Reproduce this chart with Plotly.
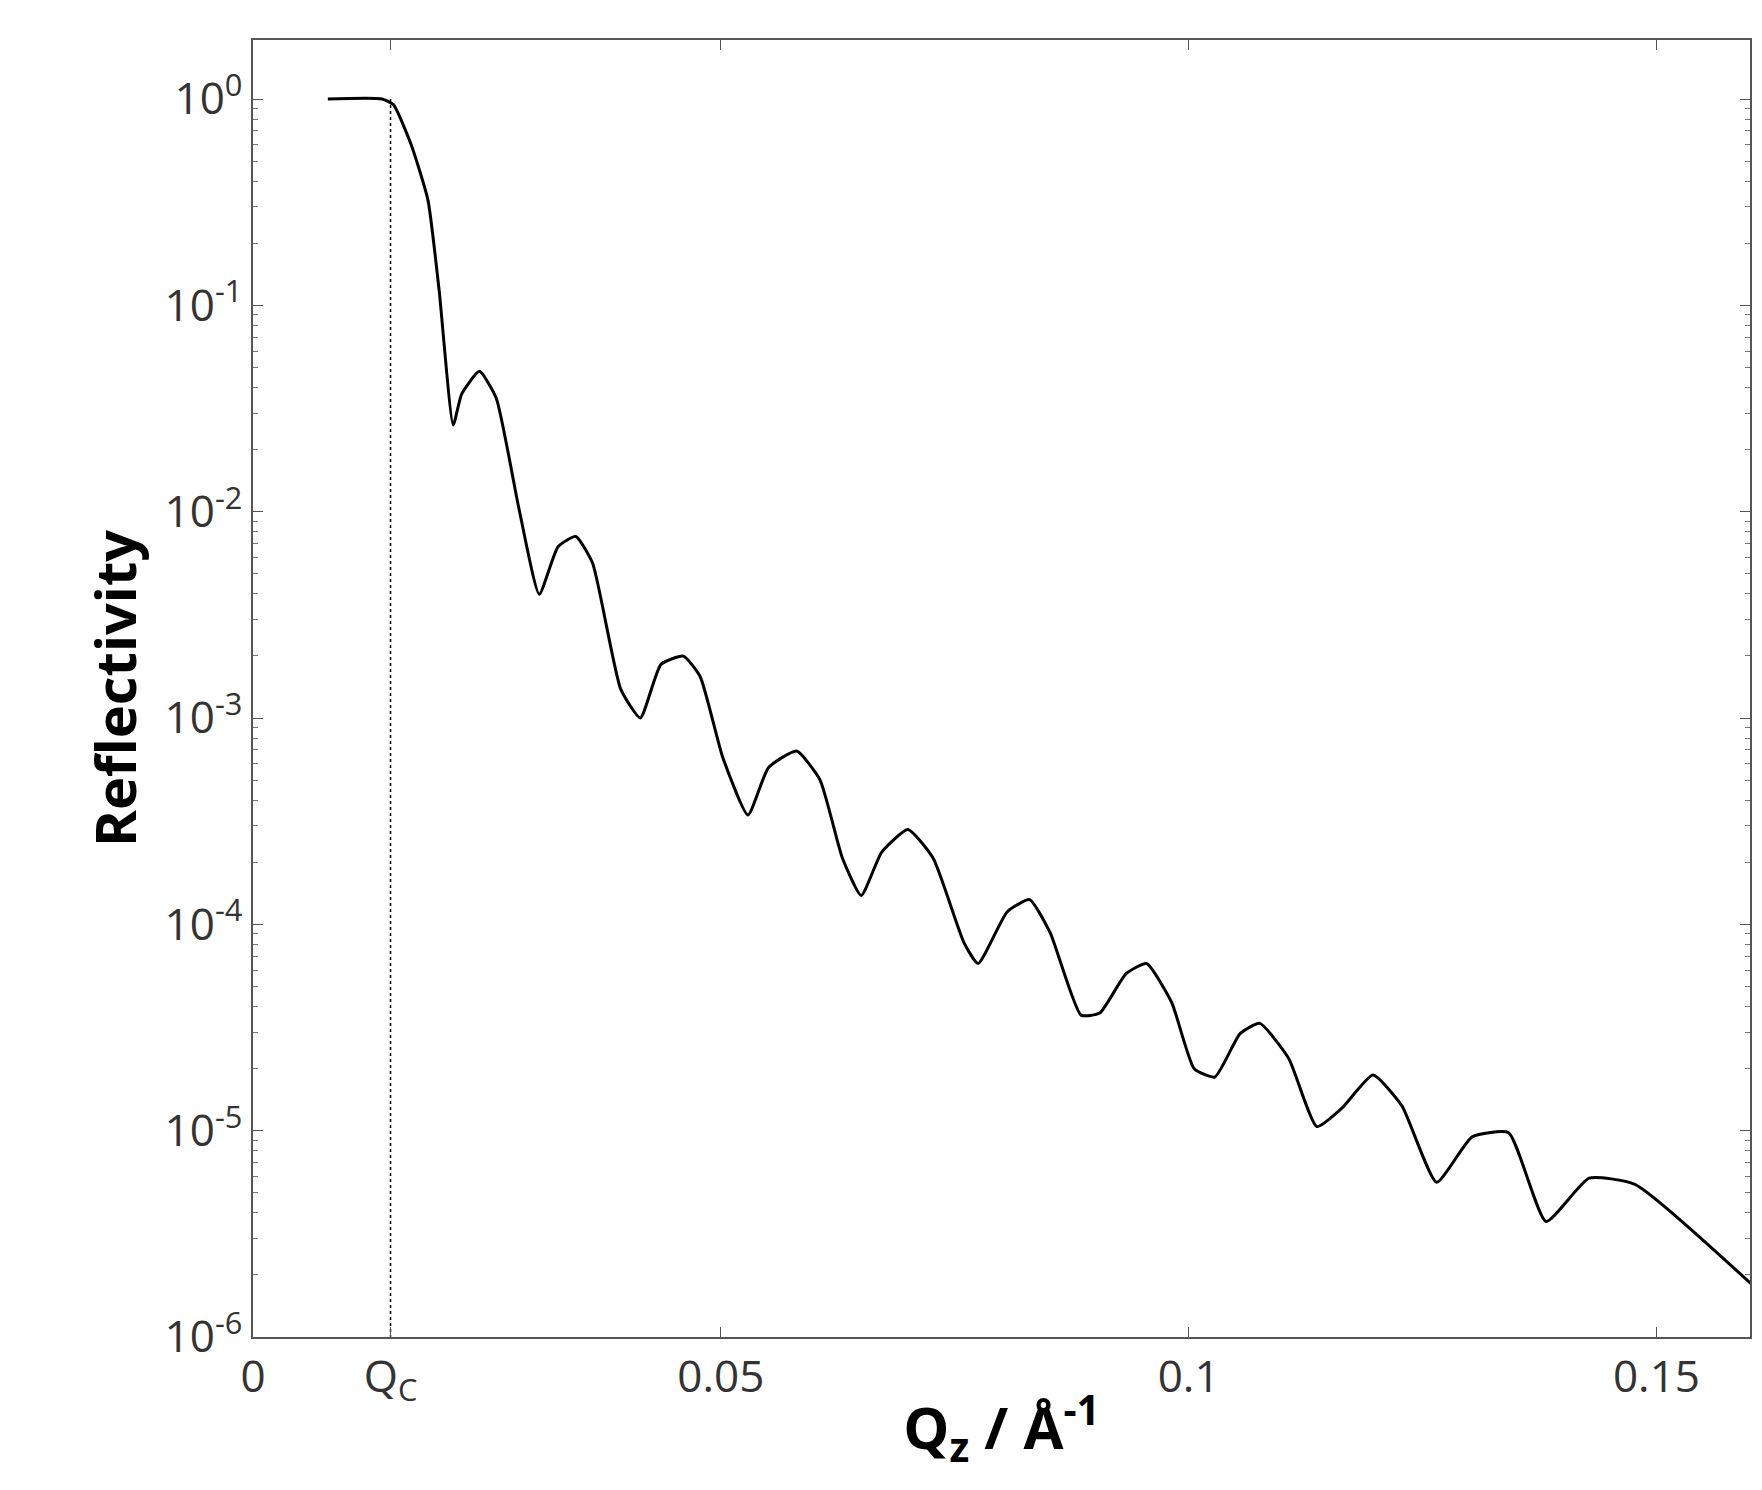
import plotly.graph_objects as go

# Reflectivity curve
qz = [0.008, 0.0138, 0.0150, 0.0169, 0.0187, 0.0199, 0.0214, 0.0223, 0.0242, 0.0260,
      0.0284, 0.0306, 0.0326, 0.0345, 0.0363, 0.0393, 0.0414, 0.0436, 0.0460, 0.0478,
      0.0502, 0.0529, 0.0551, 0.0581, 0.0606, 0.0630, 0.0650, 0.0672, 0.0700, 0.0727,
      0.0760, 0.0775, 0.0806, 0.0830, 0.0852, 0.0885, 0.0905, 0.0933, 0.0955, 0.0982,
      0.1006, 0.1028, 0.1055, 0.1076, 0.1107, 0.1137, 0.1164, 0.1197, 0.1228, 0.1265,
      0.1303, 0.1342, 0.1382, 0.1428, 0.1477, 0.1603]
log_r = [0.0, 0.0, -0.027, -0.22, -0.49, -0.93, -1.58, -1.43, -1.32, -1.45,
         -1.98, -2.40, -2.17, -2.12, -2.25, -2.86, -3.0, -2.74, -2.70, -2.80,
         -3.19, -3.47, -3.24, -3.16, -3.30, -3.68, -3.86, -3.65, -3.54, -3.68,
         -4.09, -4.19, -3.94, -3.88, -4.04, -4.44, -4.43, -4.24, -4.19, -4.38,
         -4.70, -4.74, -4.53, -4.48, -4.65, -4.98, -4.89, -4.73, -4.88, -5.25,
         -5.03, -5.01, -5.44, -5.23, -5.26, -5.75]
refl = [10 ** v for v in log_r]

qc = 0.0147
x_ticks = [0, qc, 0.05, 0.1, 0.15]
x_labels = ["0", "Q<sub>C</sub>", "0.05", "0.1", "0.15"]
y_ticks = [1e0, 1e-1, 1e-2, 1e-3, 1e-4, 1e-5, 1e-6]
y_labels = ["10<sup>%d</sup>" % e for e in [0, -1, -2, -3, -4, -5, -6]]

fig = go.Figure()
fig.add_trace(go.Scatter(x=[qc, qc], y=[1, 1e-6], mode="lines",
                         line=dict(color="black", width=1.5, dash="dot"),
                         showlegend=False))
fig.add_trace(go.Scatter(x=qz, y=refl, mode="lines",
                         line=dict(color="black", width=3, shape="spline", smoothing=0.5),
                         showlegend=False))

axis_common = dict(showline=True, linecolor="#555", linewidth=1.5, mirror="ticks",
                   ticks="inside", ticklen=10, tickcolor="#555", showgrid=False,
                   zeroline=False, tickfont=dict(size=44, color="#333"))

fig.update_layout(
    width=1762, height=1490,
    paper_bgcolor="white", plot_bgcolor="white",
    font=dict(family="Open Sans", color="#333"),
    margin=dict(l=245, r=20, t=32, b=161),
    xaxis=dict(range=[0, 0.16], tickvals=x_ticks, ticktext=x_labels,
               title=dict(text="<b>Q<sub>z</sub> / Å<sup>-1</sup></b>",
                          font=dict(size=58, color="black"), standoff=0),
               **axis_common),
    yaxis=dict(type="log", range=[-6, 0.286], tickvals=y_ticks, ticktext=y_labels,
               minor=dict(ticks="inside", ticklen=5, tickcolor="#777",
                          tickvals=[m * 10 ** e for e in range(-6, 1) for m in range(2, 10)]),
               title=dict(text="<b>Reflectivity</b>", font=dict(size=56, color="black"),
                          standoff=10),
               **axis_common),
)

fig.write_html("out.html")
